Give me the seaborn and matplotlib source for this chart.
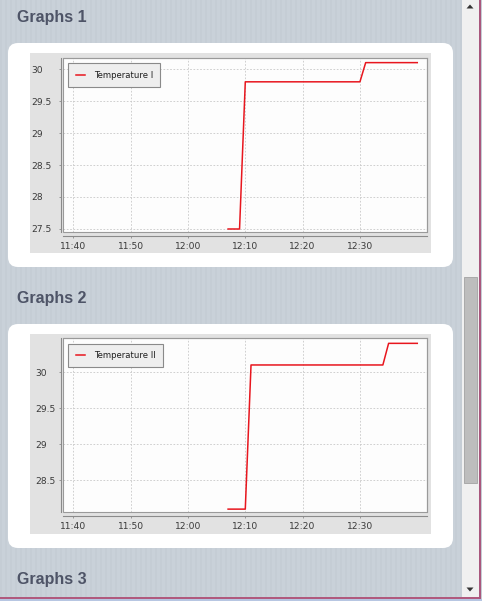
import matplotlib
matplotlib.use("Agg")
import matplotlib.pyplot as plt
import matplotlib.transforms as mtransforms
from matplotlib.patches import FancyBboxPatch, Rectangle, Polygon
import numpy as np
import pandas as pd
import seaborn as sns

# ---------------- data ----------------
section_titles = ["Graphs 1", "Graphs 2", "Graphs 3"]
series_names = ["Temperature I", "Temperature II"]

time_1 = ["12:07", "12:09", "12:10", "12:30", "12:31", "12:40"]
temp_1 = [27.5, 27.5, 29.8, 29.8, 30.1, 30.1]

time_2 = ["12:07", "12:10", "12:11", "12:34", "12:35", "12:40"]
temp_2 = [28.1, 28.1, 30.1, 30.1, 30.4, 30.4]

x_tick_labels = ["11:40", "11:50", "12:00", "12:10", "12:20", "12:30"]
y_ticks_1 = [27.5, 28, 28.5, 29, 29.5, 30]
y_tick_labels_1 = ["27.5", "28", "28.5", "29", "29.5", "30"]
y_ticks_2 = [28.5, 29, 29.5, 30]
y_tick_labels_2 = ["28.5", "29", "29.5", "30"]


def to_min(s):
    h, m = s.split(":")
    return int(h) * 60 + float(m)


# ---------------- figure ----------------
W, H = 482, 601
fig = plt.figure(figsize=(W / 100, H / 100), dpi=100)
bg = "#c9d1d9"
fig.patch.set_facecolor(bg)

# subtle vertical stripes of the page background
cols = np.arange(W)
stripe = np.where((cols % 5) < 2, 0.985, 1.0)
base = np.array([0xc9, 0xd1, 0xd9]) / 255.0
img = np.ones((H, W, 3)) * base[None, None, :] * stripe[None, :, None]
fig.figimage(img, xo=0, yo=0, zorder=0)

T = mtransforms.Affine2D().scale(1 / W, 1 / H) + fig.transFigure


def box(x0, y0, x1, y1, **kw):
    return FancyBboxPatch((x0, H - y1), x1 - x0, y1 - y0, transform=T, **kw)


def rect(x0, y0, x1, y1, **kw):
    return Rectangle((x0, H - y1), x1 - x0, y1 - y0, transform=T, **kw)


def axrect(x0, y0, x1, y1):
    return [x0 / W, 1 - y1 / H, (x1 - x0) / W, (y1 - y0) / H]


# white panels
for (y0, y1) in [(43, 267), (324, 548)]:
    fig.patches.append(box(8, y0, 453, y1, boxstyle="round,pad=0,rounding_size=10",
                           fc="white", ec="none", zorder=1))
# chart gray backgrounds
for (y0, y1) in [(53, 252.5), (334, 533.5)]:
    fig.patches.append(rect(30, y0, 431, y1, fc="#e2e2e2", ec="none", zorder=2))

# section titles
for t, yb in zip(section_titles, [22.3, 302.7, 584.0]):
    fig.text(17 / W, 1 - yb / H, t, fontsize=11.5, fontweight="bold",
             family=["Liberation Sans", "DejaVu Sans"], color="#4e5467",
             va="baseline", ha="left", zorder=5)

# scrollbar
fig.patches.append(rect(461.5, 0, 479, 597, fc="#f0f0f0", ec="none", zorder=3))
fig.patches.append(rect(464.2, 277, 476.7, 483, fc="#bdbdbd", ec="#a9a9a9", lw=0.7, zorder=4))
fig.patches.append(Polygon([[466.5, H - 8.5], [473.5, H - 8.5], [470, H - 4.5]],
                           closed=True, transform=T, fc="#333333", ec="none", zorder=4))
fig.patches.append(Polygon([[466.5, H - 587.5], [473.5, H - 587.5], [470, H - 591.5]],
                           closed=True, transform=T, fc="#333333", ec="none", zorder=4))
# window borders
fig.patches.append(rect(0, 598.5, 482, 601, fc="#b7c6e2", ec="none", zorder=5))
fig.patches.append(rect(0, 596.8, 481, 598.5, fc="#b05a7e", ec="none", zorder=5))
fig.patches.append(rect(479.3, 0, 481, 598.5, fc="#a9577d", ec="none", zorder=5))

red = "#e8161e"
x_ticks = [to_min(s) for s in x_tick_labels]
xlim = (to_min("11:38.15"), to_min("12:41.75"))


def make_chart(plot_px, times, temps, name, yticks, ylabels, ylim, ylab_left, legend_px):
    x0, y0, x1, y1 = plot_px
    ax = fig.add_axes(axrect(x0, y0, x1, y1), zorder=6)
    ax.set_facecolor("#fdfdfd")
    df = pd.DataFrame({"minute": [to_min(s) for s in times], "temp": temps})
    sns.lineplot(data=df, x="minute", y="temp", ax=ax, color=red, linewidth=1.1,
                 label=name)
    ax.set_xlim(*xlim)
    ax.set_ylim(*ylim)
    ax.set_xticks(x_ticks)
    ax.set_xticklabels(x_tick_labels)
    ax.set_yticks(yticks)
    ax.set_yticklabels(ylabels)
    ax.set_xlabel("")
    ax.set_ylabel("")
    ax.grid(True, color="#c8c8c8", linestyle=(0, (2, 2)), linewidth=0.6)
    ax.set_axisbelow(True)
    for s in ["top", "right"]:
        ax.spines[s].set_color("#9a9a9a")
        ax.spines[s].set_linewidth(0.8)
    ax.spines["left"].set_position(("outward", 1.44))
    ax.spines["bottom"].set_position(("outward", 2.66))
    for s in ["left", "bottom"]:
        ax.spines[s].set_color("#8a8a8a")
        ax.spines[s].set_linewidth(0.8)
    ax.add_patch(Rectangle((0, 0), 1, 1, transform=ax.transAxes, fill=False,
                           ec="#9a9a9a", lw=0.8, clip_on=False, zorder=1))
    ax.tick_params(axis="both", direction="out", length=1.5, width=0.6,
                   color="#8a8a8a", labelsize=6.6, labelcolor="#3a3a3a")
    ax.tick_params(axis="x", pad=2.9)
    spine_x = x0 - 2.0
    pad_pts = (spine_x - ylab_left) * 0.72 - 1.5
    ax.tick_params(axis="y", pad=pad_pts)
    for lab in ax.get_yticklabels():
        lab.set_horizontalalignment("left")
        lab.set_family("DejaVu Sans")
    for lab in ax.get_xticklabels():
        lab.set_family("DejaVu Sans")
    leg = ax.legend(loc="upper left", bbox_to_anchor=(legend_px[0] / W, 1 - legend_px[1] / H),
                    bbox_transform=fig.transFigure, borderaxespad=0, fontsize=6.1,
                    frameon=True, fancybox=False, edgecolor="#8a8a8a",
                    facecolor="#eeeeee", framealpha=1, handlelength=1.15,
                    handletextpad=1.0, borderpad=0.85)
    leg.get_frame().set_linewidth(0.8)
    for tx in leg.get_texts():
        tx.set_color("#202020")
        tx.set_family("DejaVu Sans")
    return ax


make_chart((62.7, 57.7, 427.3, 232.0), time_1, temp_1, series_names[0],
           y_ticks_1, y_tick_labels_1, (27.453, 30.177), 31.0, (68.3, 63.3))
make_chart((62.7, 338.3, 427.3, 512.3), time_2, temp_2, series_names[1],
           y_ticks_2, y_tick_labels_2, (28.056, 30.47), 35.0, (68.3, 344.0))

fig.savefig("out.png", dpi=100, facecolor=fig.get_facecolor())
